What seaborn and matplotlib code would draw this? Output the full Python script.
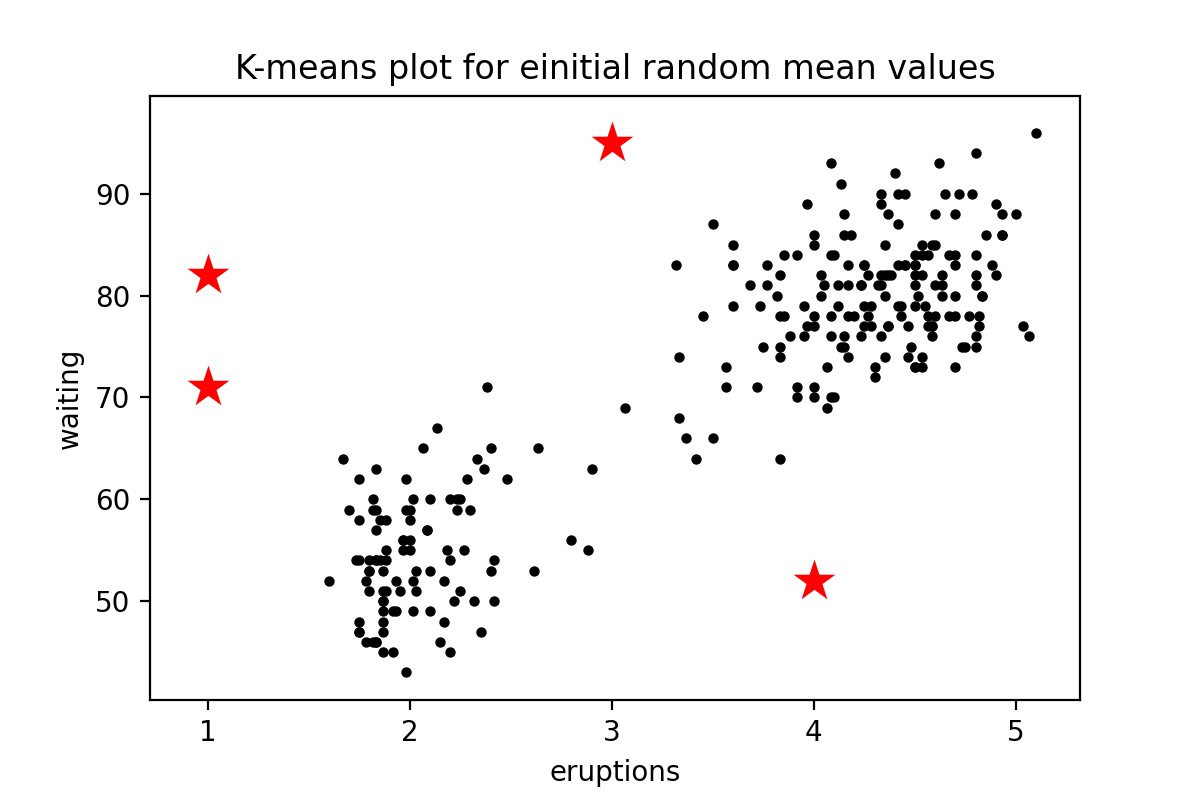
import matplotlib
matplotlib.use('Agg')
import matplotlib.pyplot as plt
import pandas as pd
import seaborn as sns

# Old Faithful geyser data (eruption duration in min, waiting time in min)
eruptions = [
    3.600, 1.800, 3.333, 2.283, 4.533, 2.883, 4.700, 3.600, 1.950, 4.350,
    1.833, 3.917, 4.200, 1.750, 4.700, 2.167, 1.750, 4.800, 1.600, 4.250,
    1.800, 1.750, 3.450, 3.067, 4.533, 3.600, 1.967, 4.083, 3.850, 4.433,
    4.300, 4.467, 3.367, 4.033, 3.833, 2.017, 1.867, 4.833, 1.833, 4.783,
    4.350, 1.883, 4.567, 1.750, 4.533, 3.317, 3.833, 2.100, 4.633, 2.000,
    4.800, 4.716, 1.833, 4.833, 1.733, 4.883, 3.717, 1.667, 4.567, 4.317,
    2.233, 4.500, 1.750, 4.800, 1.817, 4.400, 4.167, 4.700, 2.067, 4.700,
    4.033, 1.967, 4.500, 4.000, 1.983, 5.067, 2.017, 4.567, 3.883, 3.600,
    4.133, 4.333, 4.100, 2.633, 4.067, 4.933, 3.950, 4.517, 2.167, 4.000,
    2.200, 4.333, 1.867, 4.817, 1.833, 4.300, 4.667, 3.750, 1.867, 4.900,
    2.483, 4.367, 2.100, 4.500, 4.050, 1.867, 4.700, 1.783, 4.850, 3.683,
    4.733, 2.300, 4.900, 4.417, 1.700, 4.633, 2.317, 4.600, 1.817, 4.417,
    2.617, 4.067, 4.250, 1.967, 4.600, 3.767, 1.917, 4.500, 2.267, 4.650,
    1.867, 4.167, 2.800, 4.333, 1.833, 4.383, 1.883, 4.933, 2.033, 3.733,
    4.233, 2.233, 4.533, 4.817, 4.333, 1.983, 4.633, 2.017, 5.100, 1.800,
    5.033, 4.000, 2.400, 4.600, 3.567, 4.000, 4.500, 4.083, 1.800, 3.967,
    2.200, 4.150, 2.000, 3.833, 3.500, 4.583, 2.367, 5.000, 1.933, 4.617,
    1.917, 2.083, 4.583, 3.333, 4.167, 4.333, 4.500, 2.417, 4.000, 4.167,
    1.883, 4.583, 4.250, 3.767, 2.033, 4.433, 4.083, 1.833, 4.417, 2.183,
    4.800, 1.833, 4.800, 4.100, 3.966, 4.233, 3.500, 4.366, 2.250, 4.667,
    2.100, 4.350, 4.133, 1.867, 4.600, 1.783, 4.367, 3.850, 1.933, 4.500,
    2.383, 4.700, 1.867, 3.833, 3.417, 4.233, 2.400, 4.800, 2.000, 4.150,
    1.867, 4.267, 1.750, 4.483, 4.000, 4.117, 4.083, 4.267, 3.917, 4.550,
    4.083, 2.417, 4.183, 2.217, 4.450, 1.883, 1.850, 4.283, 3.950, 2.333,
    4.150, 2.350, 4.933, 2.900, 4.583, 3.833, 2.083, 4.367, 2.133, 4.350,
    2.200, 4.450, 3.567, 4.500, 4.150, 3.817, 3.917, 4.450, 2.000, 4.283,
    4.767, 4.533, 1.850, 4.250, 1.983, 2.250, 4.750, 4.117, 2.150, 4.417,
    1.817, 4.467,
]
waiting = [
    79, 54, 74, 62, 85, 55, 88, 85, 51, 85, 54, 84, 78, 47, 83, 52, 62, 84,
    52, 79, 51, 47, 78, 69, 74, 83, 55, 76, 78, 79, 73, 77, 66, 80, 74, 52,
    48, 80, 59, 90, 80, 58, 84, 58, 73, 83, 64, 53, 82, 59, 75, 90, 54, 80,
    54, 83, 71, 64, 77, 81, 59, 84, 48, 82, 60, 92, 78, 78, 65, 73, 82, 56,
    79, 71, 62, 76, 60, 78, 76, 83, 75, 82, 70, 65, 73, 88, 76, 80, 48, 86,
    60, 90, 50, 78, 63, 72, 84, 75, 51, 82, 62, 88, 49, 83, 81, 47, 84, 52,
    86, 81, 75, 59, 89, 79, 59, 81, 50, 85, 59, 87, 53, 69, 77, 56, 88, 81,
    45, 82, 55, 90, 45, 83, 56, 89, 46, 82, 51, 86, 53, 79, 81, 60, 82, 77,
    76, 59, 80, 49, 96, 53, 77, 77, 65, 81, 71, 70, 81, 93, 53, 89, 45, 86,
    58, 78, 66, 76, 63, 88, 52, 93, 49, 57, 77, 68, 81, 81, 73, 50, 85, 74,
    55, 77, 83, 83, 51, 78, 84, 46, 83, 55, 81, 57, 76, 84, 77, 81, 87, 77,
    51, 78, 60, 82, 91, 53, 78, 46, 77, 84, 49, 83, 71, 80, 49, 75, 64, 76,
    53, 94, 55, 76, 50, 82, 54, 75, 78, 79, 78, 78, 70, 79, 70, 54, 86, 50,
    90, 54, 54, 77, 79, 64, 75, 47, 86, 63, 85, 82, 57, 82, 67, 74, 54, 83,
    73, 73, 88, 80, 71, 83, 56, 79, 78, 84, 58, 83, 43, 60, 75, 81, 46, 90,
    46, 74,
]

# initial random centroids
init_x = [1, 1, 3, 4]
init_y = [82, 71, 95, 52]

df = pd.DataFrame({'eruptions': eruptions, 'waiting': waiting})
centers = pd.DataFrame({'eruptions': init_x, 'waiting': init_y})

fig, ax = plt.subplots(figsize=(6, 4), dpi=200)
fig.subplots_adjust(left=0.125, right=0.9, top=0.88, bottom=0.125)

sns.scatterplot(data=df, x='eruptions', y='waiting', color='black',
                s=14, linewidth=0, ax=ax)
sns.scatterplot(data=centers, x='eruptions', y='waiting', color='red',
                marker='*', s=250, linewidth=0, ax=ax)

ax.set_xlim(0.714, 5.317)
ax.set_ylim(40.3, 99.6)
ax.set_title('K-means plot for einitial random mean values')
ax.set_xlabel('eruptions')
ax.set_ylabel('waiting')

fig.savefig('out.png', dpi=200)
